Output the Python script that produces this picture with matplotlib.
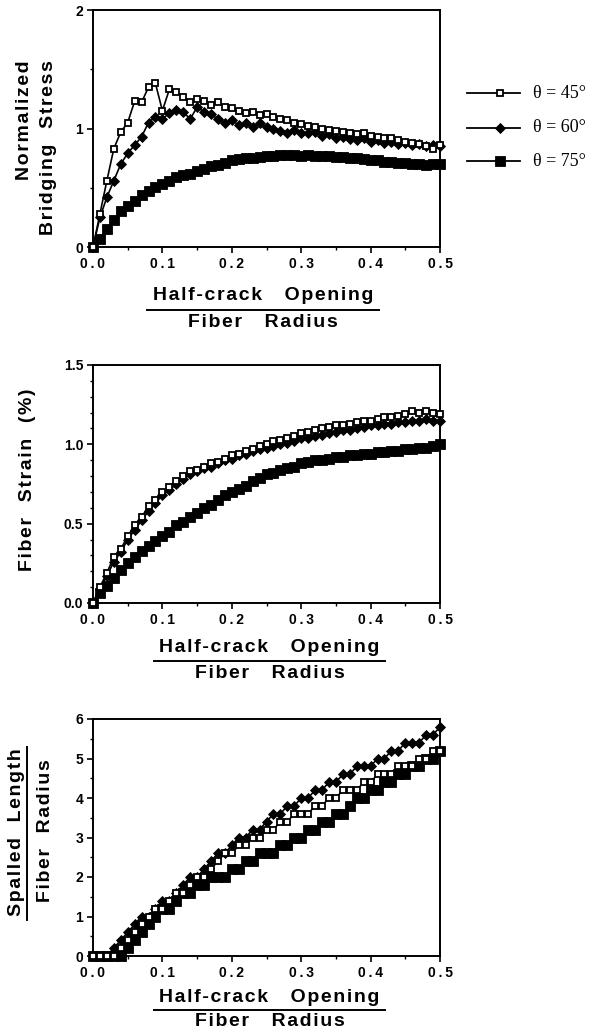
import matplotlib.pyplot as plt
import numpy as np
from matplotlib.lines import Line2D
from matplotlib.ticker import MultipleLocator

plt.rcParams['font.family'] = ['Liberation Sans', 'DejaVu Sans']

W, H = 594, 1034

# half-crack opening / fiber radius
x = [0.00, 0.01, 0.02, 0.03, 0.04, 0.05, 0.06, 0.07, 0.08, 0.09,
     0.10, 0.11, 0.12, 0.13, 0.14, 0.15, 0.16, 0.17, 0.18, 0.19,
     0.20, 0.21, 0.22, 0.23, 0.24, 0.25, 0.26, 0.27, 0.28, 0.29,
     0.30, 0.31, 0.32, 0.33, 0.34, 0.35, 0.36, 0.37, 0.38, 0.39,
     0.40, 0.41, 0.42, 0.43, 0.44, 0.45, 0.46, 0.47, 0.48, 0.49,
     0.50]

labels = ['θ = 45°', 'θ = 60°', 'θ = 75°']

# normalized bridging stress
stress_45 = [0, 0.28, 0.56, 0.83, 0.97, 1.05, 1.23, 1.22, 1.35, 1.38,
             1.15, 1.33, 1.31, 1.27, 1.22, 1.25, 1.23, 1.20, 1.22, 1.18,
             1.17, 1.15, 1.13, 1.14, 1.11, 1.12, 1.10, 1.08, 1.07, 1.05,
             1.04, 1.02, 1.01, 1.00, 0.99, 0.98, 0.97, 0.96, 0.95, 0.96,
             0.94, 0.93, 0.92, 0.92, 0.90, 0.89, 0.88, 0.87, 0.85, 0.83,
             0.86]
stress_60 = [0, 0.25, 0.42, 0.56, 0.70, 0.79, 0.86, 0.93, 1.05, 1.10,
             1.08, 1.13, 1.16, 1.14, 1.08, 1.18, 1.14, 1.12, 1.08, 1.05,
             1.07, 1.03, 1.05, 1.01, 1.05, 1.01, 1.00, 0.98, 0.96, 0.99,
             0.96, 0.96, 0.97, 0.94, 0.95, 0.92, 0.93, 0.91, 0.90, 0.92,
             0.89, 0.90, 0.88, 0.89, 0.87, 0.88, 0.86, 0.87, 0.85, 0.86,
             0.85]
stress_75 = [0, 0.07, 0.15, 0.23, 0.30, 0.35, 0.39, 0.44, 0.47, 0.51,
             0.53, 0.56, 0.59, 0.61, 0.62, 0.64, 0.66, 0.68, 0.69, 0.71,
             0.73, 0.74, 0.75, 0.75, 0.76, 0.77, 0.77, 0.78, 0.78, 0.78,
             0.77, 0.78, 0.77, 0.77, 0.77, 0.76, 0.76, 0.75, 0.75, 0.74,
             0.73, 0.73, 0.72, 0.72, 0.71, 0.71, 0.70, 0.70, 0.69, 0.70,
             0.70]

# fiber strain (%)
strain_45 = [0, 0.10, 0.19, 0.29, 0.34, 0.42, 0.49, 0.54, 0.61, 0.65,
             0.70, 0.73, 0.77, 0.80, 0.83, 0.84, 0.86, 0.88, 0.89, 0.91,
             0.93, 0.94, 0.96, 0.97, 0.99, 1.00, 1.02, 1.03, 1.04, 1.05,
             1.07, 1.08, 1.09, 1.10, 1.11, 1.12, 1.12, 1.13, 1.14, 1.15,
             1.15, 1.16, 1.17, 1.17, 1.18, 1.19, 1.21, 1.20, 1.21, 1.20,
             1.19]
strain_60 = [0, 0.09, 0.17, 0.26, 0.32, 0.40, 0.46, 0.52, 0.58, 0.63,
             0.68, 0.71, 0.75, 0.78, 0.81, 0.83, 0.85, 0.86, 0.88, 0.90,
             0.91, 0.93, 0.94, 0.96, 0.97, 0.98, 0.99, 1.00, 1.01, 1.02,
             1.04, 1.04, 1.05, 1.06, 1.07, 1.08, 1.09, 1.09, 1.10, 1.11,
             1.12, 1.12, 1.13, 1.13, 1.14, 1.14, 1.15, 1.15, 1.16, 1.15,
             1.15]
strain_75 = [0, 0.06, 0.11, 0.16, 0.21, 0.25, 0.29, 0.33, 0.36, 0.39,
             0.42, 0.45, 0.49, 0.51, 0.54, 0.57, 0.60, 0.62, 0.65, 0.68,
             0.70, 0.72, 0.74, 0.77, 0.79, 0.81, 0.82, 0.84, 0.85, 0.86,
             0.88, 0.89, 0.90, 0.90, 0.91, 0.92, 0.92, 0.93, 0.93, 0.94,
             0.94, 0.95, 0.95, 0.96, 0.96, 0.97, 0.97, 0.98, 0.98, 0.99,
             1.00]

# spalled length / fiber radius
spall_45 = [0, 0, 0, 0, 0.2, 0.4, 0.6, 0.8, 1.0, 1.2,
            1.2, 1.4, 1.6, 1.6, 1.8, 2.0, 2.0, 2.2, 2.4, 2.6,
            2.6, 2.8, 2.8, 3.0, 3.0, 3.2, 3.2, 3.4, 3.4, 3.6,
            3.6, 3.6, 3.8, 3.8, 4.0, 4.0, 4.2, 4.2, 4.2, 4.4,
            4.4, 4.6, 4.6, 4.6, 4.8, 4.8, 4.8, 5.0, 5.0, 5.2,
            5.2]
spall_60 = [0, 0, 0, 0.2, 0.4, 0.6, 0.8, 1.0, 1.0, 1.2,
            1.4, 1.4, 1.6, 1.8, 2.0, 2.0, 2.2, 2.4, 2.6, 2.6,
            2.8, 3.0, 3.0, 3.2, 3.2, 3.4, 3.6, 3.6, 3.8, 3.8,
            4.0, 4.0, 4.2, 4.2, 4.4, 4.4, 4.6, 4.6, 4.8, 4.8,
            4.8, 5.0, 5.0, 5.2, 5.2, 5.4, 5.4, 5.4, 5.6, 5.6,
            5.8]
spall_75 = [0, 0, 0, 0, 0, 0.2, 0.4, 0.6, 0.8, 1.0,
            1.2, 1.2, 1.4, 1.6, 1.6, 1.8, 1.8, 2.0, 2.0, 2.0,
            2.2, 2.2, 2.4, 2.4, 2.6, 2.6, 2.6, 2.8, 2.8, 3.0,
            3.0, 3.2, 3.2, 3.4, 3.4, 3.6, 3.6, 3.8, 4.0, 4.0,
            4.2, 4.2, 4.4, 4.4, 4.6, 4.6, 4.8, 4.8, 5.0, 5.0,
            5.2]

# marker styles for 45, 60, 75 deg
styles = [dict(marker='s', ms=4.8, mfc='white', mec='black', mew=1.3, zorder=5),
          dict(marker='D', ms=5.5, mfc='black', mec='black', mew=0.6, zorder=4),
          dict(marker='s', ms=7.5, mfc='black', mec='black', mew=0.6, zorder=3)]

LABEL_FS = 14


def fx(px):
    return px / W


def fy(py):
    return 1 - py / H


def spaced(s, sep='\u200a'):
    # the original lettering is tracked a little wider than normal
    return sep.join(s)


def make_axes(top, bottom):
    return fig.add_axes([fx(93), fy(bottom), fx(440) - fx(93), fy(top) - fy(bottom)])


def style_axes(ax, ymax, ymajor, yminor, yfmt):
    ax.set_xlim(0, 0.5)
    ax.set_ylim(0, ymax)
    ax.xaxis.set_major_locator(MultipleLocator(0.1))
    ax.xaxis.set_minor_locator(MultipleLocator(0.05))
    ax.yaxis.set_major_locator(MultipleLocator(ymajor))
    ax.yaxis.set_minor_locator(MultipleLocator(yminor))
    ax.set_xticklabels([spaced('%.1f' % v, '\u2009') for v in ax.get_xticks()])
    ax.set_yticklabels([yfmt % v for v in ax.get_yticks()])
    ax.tick_params(which='major', direction='out', length=4, width=1.2, labelsize=10, pad=3)
    ax.tick_params(which='minor', direction='out', length=2.5, width=1)
    for lab in ax.get_xticklabels() + ax.get_yticklabels():
        lab.set_fontweight('bold')
    for s in ax.spines.values():
        s.set_linewidth(1.4)


def label(px, py, s, **kw):
    fig.text(fx(px), fy(py), spaced(s), fontsize=LABEL_FS, fontweight='bold', **kw)


def xlabel(y_top, y_line, y_bot, x0, x1):
    xc = (x0 + x1) / 2
    label(xc, y_top, 'Half-crack   Opening', ha='center', va='center')
    fig.add_artist(Line2D([fx(x0), fx(x1)], [fy(y_line), fy(y_line)], color='black', lw=1.4))
    label(xc, y_bot, 'Fiber   Radius', ha='center', va='center')


fig = plt.figure(figsize=(W / 100, H / 100), dpi=100)

# ---- bridging stress
ax1 = make_axes(10, 247)
for ys, st in zip([stress_75, stress_60, stress_45], [styles[2], styles[1], styles[0]]):
    ax1.plot(x, ys, color='black', lw=1.2, clip_on=False, **st)
style_axes(ax1, 2, 1, 0.5, '%d')
label(25, 60, 'Normalized', rotation=90, ha='center', va='top')
label(49, 60, 'Bridging  Stress', rotation=90, ha='center', va='top')
xlabel(295, 310, 323, 147, 379)

# legend drawn by hand at the right
for lab, st, ly in zip(labels, styles, [93, 128, 161]):
    fig.add_artist(Line2D([fx(467), fx(520)], [fy(ly), fy(ly)], color='black', lw=1.3))
    m = dict(st)
    m.pop('zorder')
    fig.add_artist(Line2D([fx(500)], [fy(ly)], color='black', lw=0, **m))
    fig.text(fx(533), fy(ly), lab, ha='left', va='center', fontsize=13,
             family=['Liberation Serif', 'DejaVu Serif'])

# ---- fiber strain
ax2 = make_axes(365, 603)
for ys, st in zip([strain_75, strain_60, strain_45], [styles[2], styles[1], styles[0]]):
    ax2.plot(x, ys, color='black', lw=1.2, clip_on=False, **st)
style_axes(ax2, 1.5, 0.5, 0.1, '%.1f')
label(28, 480, 'Fiber  Strain  (%)', rotation=90, ha='center', va='center')
xlabel(648, 661, 673, 154, 385)

# ---- spalled length
ax3 = make_axes(719, 956)
for ys, st in zip([spall_75, spall_45, spall_60], [styles[2], styles[0], styles[1]]):
    ax3.plot(x, ys, color='black', lw=1.2, clip_on=False, **st)
style_axes(ax3, 6, 1, 0.5, '%d')
label(17, 832, 'Spalled  Length', rotation=90, ha='center', va='center')
fig.add_artist(Line2D([fx(27), fx(27)], [fy(747), fy(920)], color='black', lw=1.4))
label(45, 831, 'Fiber  Radius', rotation=90, ha='center', va='center')
xlabel(997, 1010, 1022, 154, 385)

fig.savefig('out.png', dpi=100)
